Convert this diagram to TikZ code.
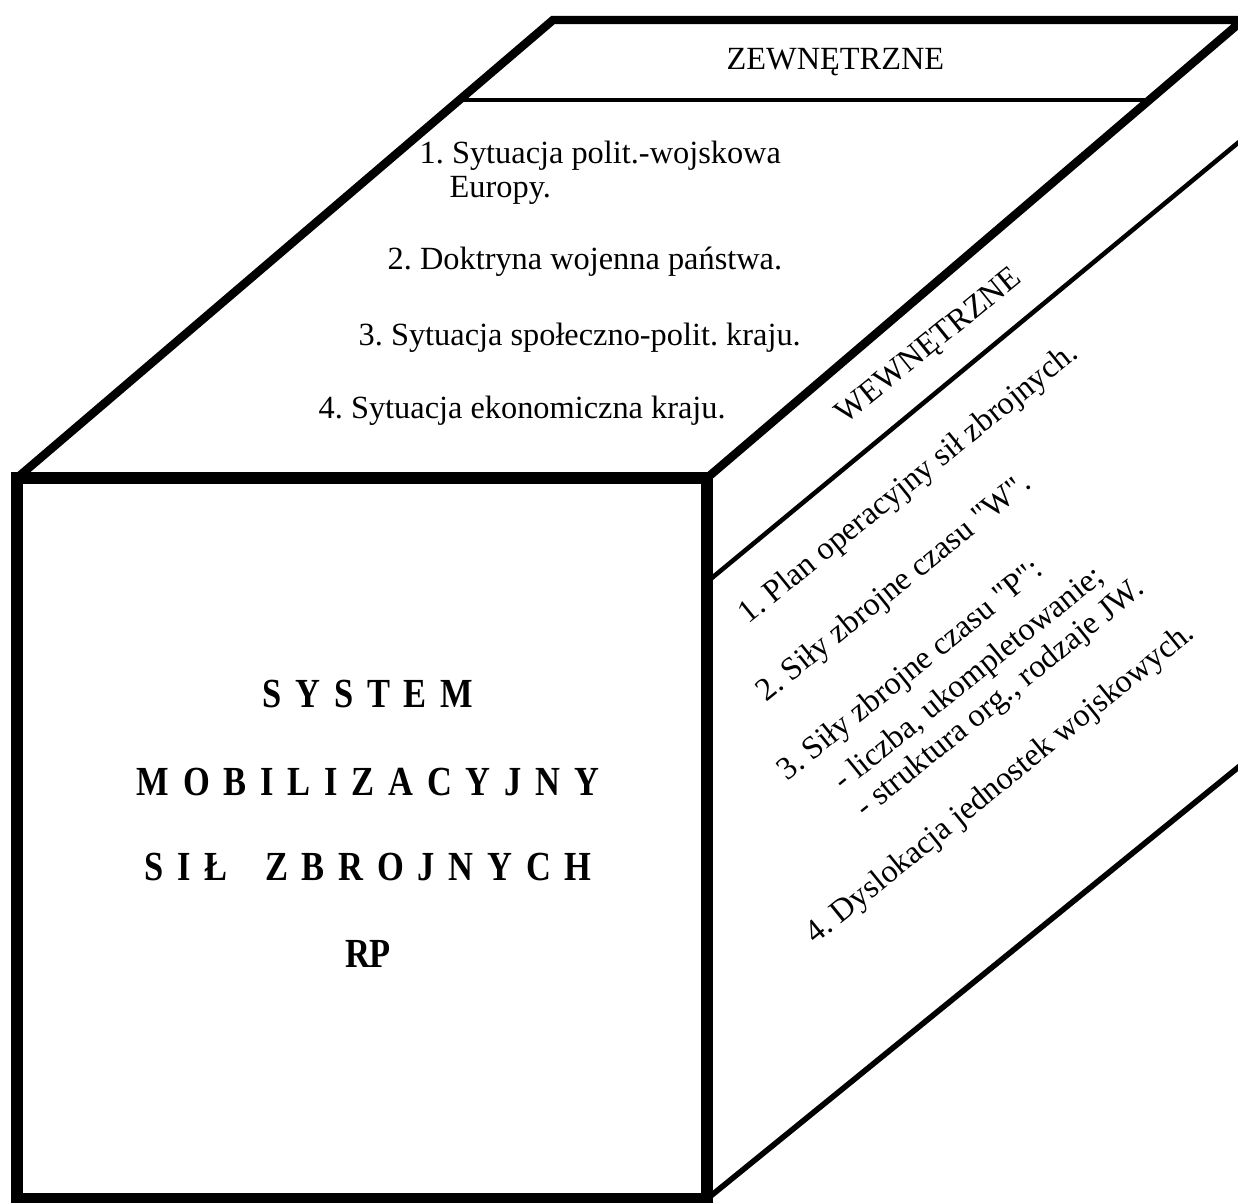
\documentclass[tikz,border=0pt]{standalone}
\usepackage{graphicx}
\usepackage{fontspec}
\setmainfont{Liberation Serif}[Ligatures=TeXOff]
\newcommand\lsp{\kern0.4em\relax}
\newcommand\tallb[1]{\scalebox{1}[1.2]{#1}}
\begin{document}
\frenchspacing
\begin{tikzpicture}[x=0.01cm,y=-0.01cm,
  txt/.style={font=\fontsize{9.2}{11}\selectfont\frenchspacing, inner sep=0pt, anchor=base west},
  big/.style={font=\fontsize{9.8}{12}\selectfont\bfseries, inner sep=0pt, anchor=base},
  rot/.style={txt, rotate=39},
  thick face/.style={line width=3.4pt, line join=miter},
  edge/.style={line width=2.4pt, line join=miter},
  thin edge/.style={line width=1.3pt}]
\useasboundingbox (0,0) rectangle (1238,1203);
\clip (0,0) rectangle (1238,1203);
% corners
\coordinate (FTL) at (17,478);
\coordinate (FTR) at (707,478);
\coordinate (FBL) at (17,1199);
\coordinate (FBR) at (707,1199);
\coordinate (BTL) at (553,20);
\coordinate (BTR) at (1243,20);
\coordinate (HL) at (459,100);
\coordinate (HR) at (1150,100);
\coordinate (WA) at (707,582);
\coordinate (WB) at (1262,123);
\coordinate (BBR) at (1262,748);
% top face
\draw[edge] (FTL) -- (BTL) -- (BTR) -- (FTR);
\draw[thin edge] (HL) -- (HR);
% right face
\draw[thin edge] (WA) -- (WB);
\draw[line width=1.6pt] (FBR) -- (BBR);
% front face
\draw[thick face] (FTL) rectangle (FBR);
% top texts
\node[txt] (z) at (726,69) {ZEWNĘTRZNE};
\node[txt] (t1) at (419,163) {1. Sytuacja polit.-wojskowa};
\node[txt] (t1b) at (449,197) {Europy.};
\node[txt] (t2) at (387,270) {2. Doktryna wojenna państwa.};
\node[txt] (t3) at (358,345) {3. Sytuacja społeczno-polit. kraju.};
\node[txt] (t4) at (318,418) {4. Sytuacja ekonomiczna kraju.};
% right face texts
\node[rot] (w) at (845,425) {WEWNĘTRZNE};
\node[rot] (r1) at (748,625) {1. Plan operacyjny sił zbrojnych.};
\node[rot] (r2) at (766,703) {2. Siły zbrojne czasu "W".};
\node[rot] (r3) at (787,782) {3. Siły zbrojne czasu "P":};
\node[rot] (r3a) at (843,792) {- liczba, ukompletowanie;};
\node[rot] (r3b) at (865,819) {- struktura org., rodzaje JW.};
\node[rot] (r4) at (815,945) {4. Dyslokacja jednostek wojskowych.};
% front texts
\node[big] (f1) at (368,707) {\tallb{S\lsp Y\lsp S\lsp T\lsp E\lsp M}};
\node[big] (f2) at (368,795) {\tallb{M\lsp O\lsp B\lsp I\lsp L\lsp I\lsp Z\lsp A\lsp C\lsp Y\lsp J\lsp N\lsp Y}};
\node[big] (f3) at (368,880) {\tallb{S\lsp I\lsp Ł\kern1.1em Z\lsp B\lsp R\lsp O\lsp J\lsp N\lsp Y\lsp C\lsp H}};
\node[big] (f4) at (368,967) {\tallb{RP}};
\end{tikzpicture}
\end{document}
